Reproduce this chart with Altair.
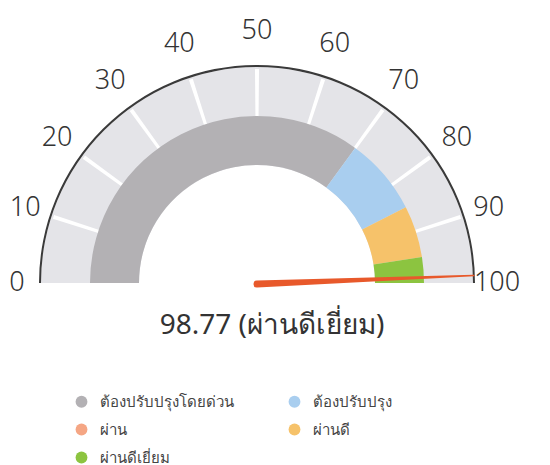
import math
import altair as alt
import pandas as pd

# ---- data ----
categories = ["ต้องปรับปรุงโดยด่วน", "ต้องปรับปรุง", "ผ่าน", "ผ่านดี", "ผ่านดีเยี่ยม"]
band_start = [0, 70, 85, 85, 95]
band_end = [70, 85, 85, 95, 100]
colors = ["#B3B1B4", "#A9CEEF", "#F5A684", "#F6C26A", "#8CC440"]
tick_values = [0, 10, 20, 30, 40, 50, 60, 70, 80, 90, 100]
score = [98.77]
score_text = ["98.77 (ผ่านดีเยี่ยม)"]

# legend is laid out column by column: order entries so rows read like the reference
legend_order = [0, 2, 4, 1, 3]
legend_domain = [categories[i] for i in legend_order]
legend_range = [colors[i] for i in legend_order]

# ---- layout ----
CX, CY = 249, 275
R_OUT = 217
FONT = "Noto Sans"
theta_scale = alt.Scale(domain=[0, 100], range=[-math.pi / 2, math.pi / 2])

bands = pd.DataFrame({"cat": categories, "start": band_start, "end": band_end})
ticks = pd.DataFrame({"v": tick_values})
needle = pd.DataFrame({"score": score * 2, "r": [0, R_OUT], "w": [7, 1.5], "o": [0, 1]})
title = pd.DataFrame({"t": score_text})
full = pd.DataFrame({"start": [0], "end": [100]})

base_pos = dict(x=alt.value(CX), y=alt.value(CY))

background = alt.Chart(full).mark_arc(radius=R_OUT - 1, radius2=118, color="#E4E4E8").encode(
    theta=alt.Theta("start:Q", scale=theta_scale, stack=None), theta2="end:Q", **base_pos
)
outline = alt.Chart(full).mark_arc(radius=R_OUT + 1, radius2=R_OUT - 1, color="#3A3A3A").encode(
    theta=alt.Theta("start:Q", scale=theta_scale, stack=None), theta2="end:Q", **base_pos
)
tick_marks = (
    alt.Chart(ticks)
    .transform_filter("datum.v > 0 && datum.v < 100")
    .transform_calculate(a="datum.v - 0.3", b="datum.v + 0.3")
    .mark_arc(radius=R_OUT - 3, radius2=164, color="white")
    .encode(theta=alt.Theta("a:Q", scale=theta_scale, stack=None), theta2="b:Q", **base_pos)
)
band = alt.Chart(bands).mark_arc(radius=167, radius2=118).encode(
    theta=alt.Theta("start:Q", scale=theta_scale, stack=None),
    theta2="end:Q",
    color=alt.Color(
        "cat:N",
        scale=alt.Scale(domain=legend_domain, range=legend_range),
        legend=alt.Legend(
            orient="none", legendX=66, legendY=386, columns=2, title=None,
            symbolType="circle", symbolSize=140, symbolOpacity=1, symbolStrokeWidth=0,
            labelFontSize=15, labelFont=FONT, labelColor="#444", labelOffset=11,
            columnPadding=53, rowPadding=12, labelLimit=300, padding=0,
        ),
    ),
    **base_pos,
)
labels = (
    alt.Chart(ticks)
    .transform_calculate(rr="240 + 12*sin(datum.v/100*PI)")
    .mark_text(fontSize=27, font=FONT, fontWeight=300, color="#333", align="center", baseline="middle")
    .encode(
        theta=alt.Theta("v:Q", scale=theta_scale, stack=None),
        radius=alt.Radius("rr:Q", scale=None),
        text="v:Q",
        **base_pos,
    )
)

needle_line = (
    alt.Chart(needle)
    .transform_calculate(ang="-PI/2 + datum.score/100*PI")
    .transform_calculate(px=f"{CX} + datum.r*sin(datum.ang)", py=f"{CY + 1} - datum.r*cos(datum.ang)")
    .mark_trail(color="#E8592B")
    .encode(
        x=alt.X("px:Q", scale=None, axis=None),
        y=alt.Y("py:Q", scale=None, axis=None),
        size=alt.Size("w:Q", scale=None, legend=None),
        order="o:Q",
    )
)
title_text = alt.Chart(title).mark_text(
    fontSize=28, font=FONT, color="#333", align="center", baseline="middle"
).encode(text="t:N", x=alt.value(264), y=alt.value(318))

chart = (
    alt.layer(background, outline, tick_marks, band, labels, needle_line, title_text)
    .properties(width=534, height=457, autosize=alt.AutoSizeParams(type="none"), padding=0)
    .configure_view(stroke=None)
)
chart.save("out.html", embed_options={"renderer": "svg", "actions": False})
